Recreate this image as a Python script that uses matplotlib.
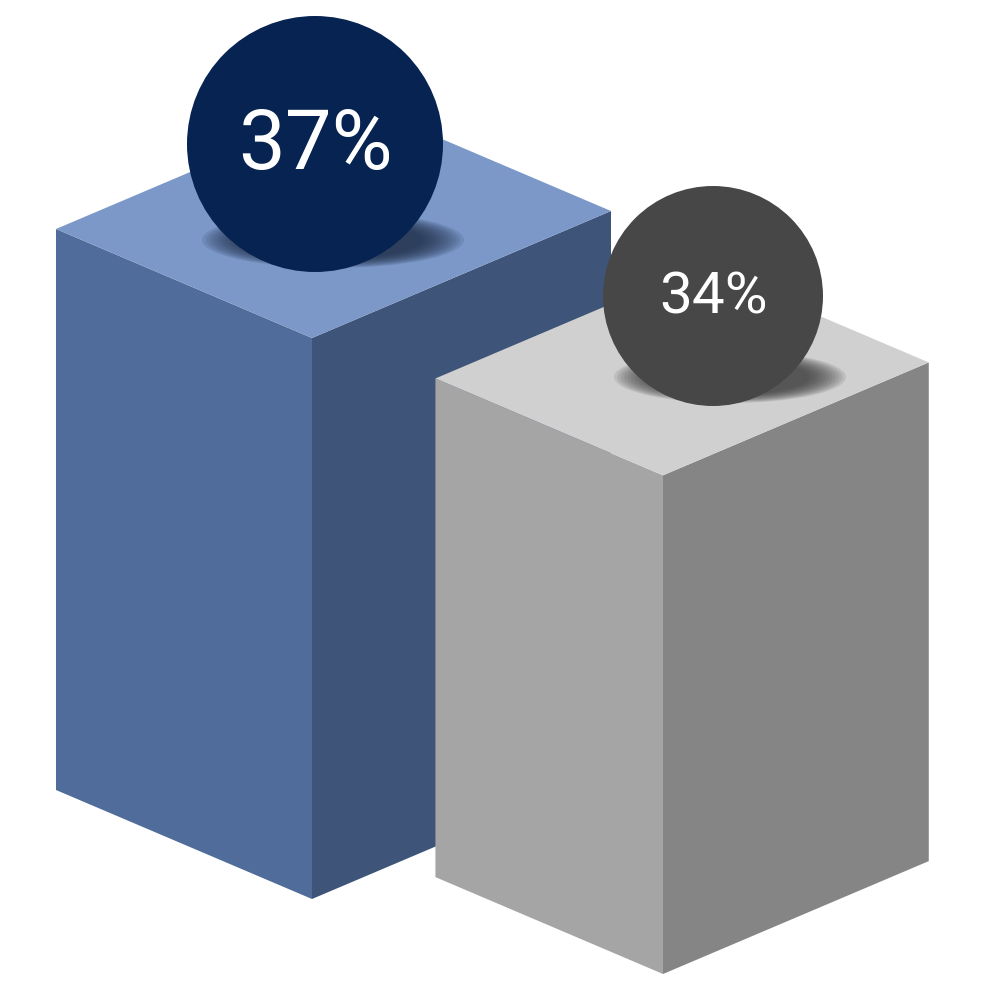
import matplotlib
matplotlib.use("Agg")
import matplotlib.pyplot as plt
from matplotlib.patches import Polygon, Circle, Ellipse

# data
labels = ["37%", "34%"]
values = [37, 34]
value_floor = 10  # value where a box would have zero height

# style / layout (pixel space, y grows downward)
top_colors = ["#7B98C8", "#D0D0D0"]
left_colors = ["#506C9A", "#A5A5A5"]
right_colors = ["#3F5479", "#858585"]
ball_colors = ["#072352", "#474747"]
shadow_colors = ["#1c2a45", "#3a3a3a"]
anchors = [(312, 899), (663, 974)]          # front-bottom corner of each box
ball_centers = [(315, 144), (713, 296)]
ball_radii = [128, 110]
shadow_centers = [(333, 240), (730, 377)]
shadow_sizes = [(262, 56), (232, 52)]
font_sizes = [60, 42]

base_left = (-256, -109)
base_right = (299, -127)
base_height = 561

fig = plt.figure(figsize=(10, 10), dpi=100)
ax = fig.add_axes([0, 0, 1, 1])
ax.set_xlim(0, 1000)
ax.set_ylim(1000, 0)
ax.axis("off")

vmax = max(values)
for i, v in enumerate(values):
    s = (v - value_floor) / (vmax - value_floor)
    h = base_height * s
    lx, ly = base_left[0] * s, base_left[1] * s
    rx, ry = base_right[0] * s, base_right[1] * s
    fx, fy = anchors[i]
    tx, ty = fx, fy - h

    left = [(tx, ty), (tx + lx, ty + ly), (fx + lx, fy + ly), (fx, fy)]
    right = [(tx, ty), (tx + rx, ty + ry), (fx + rx, fy + ry), (fx, fy)]
    top = [(tx, ty), (tx + lx, ty + ly), (tx + lx + rx, ty + ly + ry), (tx + rx, ty + ry)]
    ax.add_patch(Polygon(left, closed=True, fc=left_colors[i], ec="none"))
    ax.add_patch(Polygon(right, closed=True, fc=right_colors[i], ec="none"))
    ax.add_patch(Polygon(top, closed=True, fc=top_colors[i], ec="none"))

    # soft shadow under the ball
    sx, sy = shadow_centers[i]
    sw, sh = shadow_sizes[i]
    n = 12
    for k in range(n):
        f = 1.0 - k / n * 0.35
        ax.add_patch(Ellipse((sx, sy), sw * f, sh * f, fc=shadow_colors[i],
                             ec="none", alpha=0.12))

    cx, cy = ball_centers[i]
    ax.add_patch(Circle((cx, cy), ball_radii[i], fc=ball_colors[i], ec="none"))
    ax.text(cx, cy + 2, labels[i], ha="center", va="center", color="white",
            fontsize=font_sizes[i], family="Roboto")

plt.savefig("out.png", dpi=100)
